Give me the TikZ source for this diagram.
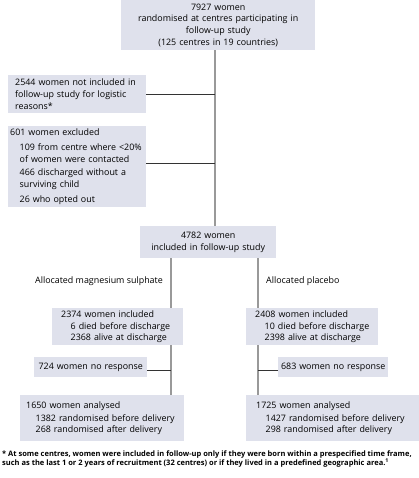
\documentclass[tikz,border=0pt]{standalone}
\usepackage{fontspec}
\setmainfont{Open Sans}
\definecolor{boxfill}{HTML}{DFE1EC}
\definecolor{spinegray}{HTML}{999999}
\definecolor{sidedark}{HTML}{333333}
\tikzset{
  box/.style={fill=boxfill, draw=none, rectangle, anchor=north west, inner ysep=0pt,
    font=\fontsize{8.9}{11.6}\selectfont},
  cbox/.style={box, align=center},
  lbox/.style={box, align=left},
  spine/.style={draw=spinegray, line width=1.3pt},
  side/.style={draw=sidedark, line width=0.7pt},
  lbl/.style={font=\fontsize{8.9}{11.6}\selectfont, inner sep=0pt},
}
\newcommand{\ind}{\hspace*{9.5pt}}
\begin{document}
\begin{tikzpicture}[x=1pt,y=-1pt]
\useasboundingbox (0,0) rectangle (419,478);
\coordinate (spinex) at (215,0);
\coordinate (lb) at (171,0);
\coordinate (rb) at (258,0);

\node[cbox, minimum width=194pt, minimum height=50pt, text width=190pt, inner xsep=2pt] (top) at (121,0)
  {7927 women\\randomised at centres participating in\\follow-up study\\(125 centres in 19 countries)};

\node[lbox, minimum width=138pt, minimum height=38pt, text width=124pt, inner xsep=7pt, xshift=4pt] (n2544) at (4,75)
  {2544 women not included in\\follow-up study for logistic\\reasons*};

\node[lbox, minimum width=138pt, minimum height=81pt, text width=134pt, inner xsep=2pt, xshift=2pt] (n601) at (6,126)
  {601 women excluded\\[3.5pt]
   \ind 109 from centre where <20\%\\
   \ind of women were contacted\\[1.5pt]
   \ind 466 discharged without a\\
   \ind surviving child\\[3.5pt]
   \ind 26 who opted out};

\node[cbox, minimum width=136pt, minimum height=32pt, text width=132pt, inner xsep=2pt] (n4782) at (140,226)
  {4782 women\\included in follow-up study};

\node[lbl, anchor=east] (lmg) at (163,281) {Allocated magnesium sulphate};
\node[lbl, anchor=west] (lpl) at (266,281) {Allocated placebo};

\node[lbox, minimum width=131pt, minimum height=37pt, text width=125pt, inner xsep=3pt, xshift=0pt] (nmg) at (52,308)
  {\hspace*{6pt}2374 women included\\
   \ind\hspace*{6pt}6 died before discharge\\
   \ind\hspace*{6pt}2368 alive at discharge};

\node[lbox, minimum width=132pt, minimum height=37pt, text width=126pt, inner xsep=3pt] (npl) at (246,308)
  {\hspace*{6pt}2408 women included\\
   \ind\hspace*{6pt}10 died before discharge\\
   \ind\hspace*{6pt}2398 alive at discharge};

\node[lbox, minimum width=113pt, minimum height=20pt, text width=113pt, inner xsep=0pt] (n724) at (34,357)
  {\makebox[113pt][c]{724 women no response}};

\node[lbox, minimum width=110pt, minimum height=20pt, text width=110pt, inner xsep=0pt] (n683) at (278,357)
  {\makebox[110pt][c]{683 women no response}};

\node[lbox, minimum width=164pt, minimum height=46pt, text width=158pt, inner xsep=3pt] (n1650) at (20,395)
  {\hspace*{3pt}1650 women analysed\\[1.5pt]
   \ind\hspace*{3pt}1382 randomised before delivery\\
   \ind\hspace*{3pt}268 randomised after delivery};

\node[lbox, minimum width=173pt, minimum height=46pt, text width=167pt, inner xsep=3pt] (n1725) at (246,395)
  {\hspace*{7pt}1725 women analysed\\[1.5pt]
   \ind\hspace*{7pt}1427 randomised before delivery\\
   \ind\hspace*{7pt}298 randomised after delivery};

\node[anchor=north west, inner sep=0pt, align=left, font=\fontsize{7.5}{9}\selectfont\bfseries] (foot) at (2,451)
  {* At some centres, women were included in follow-up only if they were born within a prespecified time frame,\\
   such as the last 1 or 2 years of recruitment (32 centres) or if they lived in a predefined geographic area.\textsuperscript{1}};

% connectors
\draw[spine] (top.south -| spinex) -- (n4782.north -| spinex);
\draw[side] (n2544.east) -- (n2544.east -| spinex);
\draw[side] ([yshift=3.5pt]n601.east) -- ([yshift=3.5pt]n601.east -| spinex);
\draw[spine] (n4782.south -| lb) -- (nmg.north -| lb);
\draw[spine] (n4782.south -| rb) -- (npl.north -| rb);
\draw[spine] (nmg.south -| lb) -- (n1650.north -| lb);
\draw[spine] (npl.south -| rb) -- (n1725.north -| rb);
\draw[side] ([yshift=-3.5pt]n724.east) -- ([yshift=-3.5pt]n724.east -| lb);
\draw[side] ([yshift=-3.5pt]n683.west) -- ([yshift=-3.5pt]n683.west -| rb);
\end{tikzpicture}
\end{document}
